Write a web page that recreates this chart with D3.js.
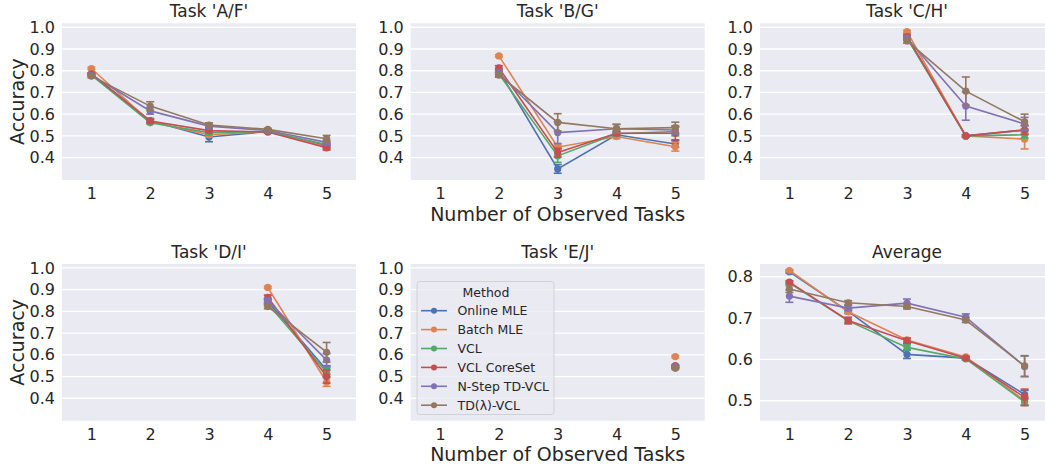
<!DOCTYPE html>
<html>
<head>
<meta charset="utf-8">
<script src="https://cdn.jsdelivr.net/npm/d3@7"></script>
<style>
  body { margin: 0; background: #fff; }
  svg { display: block; font-family: 'DejaVu Sans', sans-serif; }
</style>
</head>
<body>
<div id="chart"></div>
<script>
const width = 1045,
  height = 470;

const methods = ['Online MLE', 'Batch MLE', 'VCL', 'VCL CoreSet', 'N-Step TD-VCL', 'TD(λ)-VCL'];
const colors = ['#4c72b0', '#dd8452', '#55a868', '#c44e52', '#8172b3', '#937860'];
const tasks = [1, 2, 3, 4, 5];
const titles = ["Task 'A/F'", "Task 'B/G'", "Task 'C/H'", "Task 'D/I'", "Task 'E/J'", 'Average'];
const firstTask = [1, 2, 3, 4, 5, 1];

// mean accuracy, one row per method
const afMean = [
  [0.785, 0.57, 0.495, 0.52, 0.455],
  [0.81, 0.565, 0.505, 0.52, 0.45],
  [0.78, 0.56, 0.515, 0.52, 0.46],
  [0.785, 0.568, 0.524, 0.518, 0.445],
  [0.78, 0.615, 0.545, 0.525, 0.47],
  [0.775, 0.637, 0.55, 0.53, 0.487]
];
const afErr = [
  [0.005, 0.01, 0.022, 0.005, 0.01],
  [0.005, 0.008, 0.01, 0.005, 0.01],
  [0.005, 0.005, 0.01, 0.005, 0.01],
  [0.005, 0.008, 0.008, 0.005, 0.01],
  [0.005, 0.015, 0.01, 0.005, 0.01],
  [0.008, 0.02, 0.01, 0.005, 0.015]
];
const bgMean = [
  [0.80, 0.348, 0.505, 0.463],
  [0.868, 0.448, 0.497, 0.45],
  [0.785, 0.408, 0.51, 0.52],
  [0.813, 0.423, 0.512, 0.512],
  [0.79, 0.515, 0.533, 0.527],
  [0.78, 0.562, 0.533, 0.538]
];
const bgErr = [
  [0.01, 0.02, 0.01, 0.015],
  [0.005, 0.01, 0.01, 0.02],
  [0.01, 0.03, 0.01, 0.02],
  [0.01, 0.02, 0.01, 0.03],
  [0.01, 0.05, 0.02, 0.02],
  [0.01, 0.04, 0.02, 0.025]
];
const chMean = [
  [0.955, 0.50, 0.527],
  [0.98, 0.50, 0.485],
  [0.95, 0.50, 0.505],
  [0.957, 0.50, 0.527],
  [0.95, 0.637, 0.555],
  [0.937, 0.706, 0.565]
];
const chErr = [
  [0.01, 0.005, 0.02],
  [0.005, 0.005, 0.045],
  [0.01, 0.005, 0.015],
  [0.01, 0.005, 0.02],
  [0.01, 0.065, 0.03],
  [0.01, 0.065, 0.035]
];
const diMean = [
  [0.845, 0.53],
  [0.91, 0.475],
  [0.835, 0.52],
  [0.865, 0.50],
  [0.85, 0.576],
  [0.822, 0.612]
];
const diErr = [
  [0.01, 0.02],
  [0.005, 0.02],
  [0.01, 0.02],
  [0.01, 0.03],
  [0.01, 0.03],
  [0.01, 0.045]
];
const ejMean = [[0.545], [0.592], [0.545], [0.55], [0.545], [0.538]];
const ejErr = [[0.005], [0.005], [0.005], [0.005], [0.005], [0.005]];
const avgMean = [
  [0.812, 0.716, 0.612, 0.603, 0.515],
  [0.815, 0.715, 0.647, 0.606, 0.50],
  [0.785, 0.693, 0.629, 0.601, 0.497],
  [0.787, 0.694, 0.645, 0.603, 0.508],
  [0.753, 0.724, 0.736, 0.702, 0.583],
  [0.770, 0.737, 0.728, 0.695, 0.584]
];
const avgErr = [
  [0.003, 0.005, 0.01, 0.003, 0.01],
  [0.002, 0.003, 0.005, 0.003, 0.01],
  [0.003, 0.004, 0.006, 0.003, 0.008],
  [0.003, 0.008, 0.006, 0.003, 0.02],
  [0.015, 0.006, 0.01, 0.008, 0.025],
  [0.008, 0.005, 0.006, 0.006, 0.025]
];

const taskTicks = [0.4, 0.5, 0.6, 0.7, 0.8, 0.9, 1.0];
const avgTicks = [0.5, 0.6, 0.7, 0.8];

const means = [afMean, bgMean, chMean, diMean, ejMean, avgMean];
const errs = [afErr, bgErr, chErr, diErr, ejErr, avgErr];

const colLeft = [62, 410.7, 760],
  rowTop = [23.3, 264],
  pw = 294,
  ph = 156.7;

const svg = d3.select('#chart').append('svg').attr('width', width).attr('height', height);

const x = d3.scaleLinear().domain([0.5, 5.5]).range([0, pw]);
const yTask = d3.scaleLinear().domain([0.297, 1.018]).range([ph, 0]);
const yAvg = d3.scaleLinear().domain([0.4516, 0.8307]).range([ph, 0]);

titles.forEach((title, p) => {
  const col = p % 3,
    row = Math.floor(p / 3);
  const y = p === 5 ? yAvg : yTask;
  const ticks = p === 5 ? avgTicks : taskTicks;
  const g = svg.append('g').attr('transform', `translate(${colLeft[col]},${rowTop[row]})`);

  g.append('rect').attr('width', pw).attr('height', ph).attr('fill', '#eaeaf2');

  g.selectAll('.grid')
    .data(ticks)
    .enter()
    .append('line')
    .attr('x1', 0)
    .attr('x2', pw)
    .attr('y1', d => y(d))
    .attr('y2', d => y(d))
    .attr('stroke', '#fff')
    .attr('stroke-width', 1.4);

  const yAxis = g.append('g').call(d3.axisLeft(y).tickValues(ticks).tickFormat(d3.format('.1f')).tickSize(0).tickPadding(7));
  yAxis.select('.domain').remove();
  yAxis.selectAll('text').attr('font-size', 16).attr('fill', '#262626').attr('font-family', 'DejaVu Sans');

  const xAxis = g
    .append('g')
    .attr('transform', `translate(0,${ph})`)
    .call(d3.axisBottom(x).tickValues(tasks).tickFormat(d3.format('d')).tickSize(0).tickPadding(8));
  xAxis.select('.domain').remove();
  xAxis.selectAll('text').attr('font-size', 16).attr('fill', '#262626').attr('font-family', 'DejaVu Sans');

  g.append('text')
    .attr('x', pw / 2)
    .attr('y', -6)
    .attr('text-anchor', 'middle')
    .attr('font-size', 17)
    .attr('fill', '#262626')
    .text(title);

  methods.forEach((m, i) => {
    const pts = means[p][i].map((v, k) => ({ t: firstTask[p] + k, v: v, e: errs[p][i][k] }));
    const s = g.append('g').attr('stroke', colors[i]).attr('fill', colors[i]);

    s.append('path')
      .datum(pts)
      .attr('fill', 'none')
      .attr('stroke-width', 1.6)
      .attr('d', d3.line().x(d => x(d.t)).y(d => y(d.v)));

    const eb = s.selectAll('.eb').data(pts).enter().append('g');
    eb.append('line')
      .attr('x1', d => x(d.t))
      .attr('x2', d => x(d.t))
      .attr('y1', d => y(d.v - d.e))
      .attr('y2', d => y(d.v + d.e))
      .attr('stroke-width', 1.6);
    [-1, 1].forEach(sign => {
      eb.append('line')
        .attr('x1', d => x(d.t) - 4)
        .attr('x2', d => x(d.t) + 4)
        .attr('y1', d => y(d.v + sign * d.e))
        .attr('y2', d => y(d.v + sign * d.e))
        .attr('stroke-width', 1.6);
    });

    s.selectAll('circle')
      .data(pts)
      .enter()
      .append('circle')
      .attr('cx', d => x(d.t))
      .attr('cy', d => y(d.v))
      .attr('r', 3.6)
      .attr('stroke', 'none');
  });
});

// axis labels
[0, 1].forEach(row => {
  svg.append('text')
    .attr('transform', `translate(24,${rowTop[row] + ph / 2}) rotate(-90)`)
    .attr('text-anchor', 'middle')
    .attr('font-size', 19)
    .attr('fill', '#262626')
    .text('Accuracy');
  svg.append('text')
    .attr('x', colLeft[1] + pw / 2)
    .attr('y', rowTop[row] + ph + 40.5)
    .attr('text-anchor', 'middle')
    .attr('font-size', 19)
    .attr('fill', '#262626')
    .text('Number of Observed Tasks');
});

// legend
const lg = svg.append('g').attr('transform', 'translate(417,281.5)');
lg.append('rect')
  .attr('width', 137)
  .attr('height', 133)
  .attr('rx', 3)
  .attr('fill', '#eaeaf2')
  .attr('fill-opacity', 0.8)
  .attr('stroke', '#cccccc')
  .attr('stroke-width', 0.8);
lg.append('text')
  .attr('x', 69)
  .attr('y', 15)
  .attr('text-anchor', 'middle')
  .attr('font-size', 12.5)
  .attr('fill', '#262626')
  .text('Method');
const items = lg
  .selectAll('.item')
  .data(methods)
  .enter()
  .append('g')
  .attr('transform', (d, i) => `translate(0,${29.2 + i * 18.9})`);
items.append('line')
  .attr('x1', 4)
  .attr('x2', 30)
  .attr('stroke', (d, i) => colors[i])
  .attr('stroke-width', 1.6);
items.append('circle')
  .attr('cx', 17)
  .attr('r', 3)
  .attr('fill', (d, i) => colors[i]);
items.append('text')
  .attr('x', 40.5)
  .attr('y', 4.5)
  .attr('font-size', 12.5)
  .attr('fill', '#262626')
  .text(d => d);
</script>
</body>
</html>
